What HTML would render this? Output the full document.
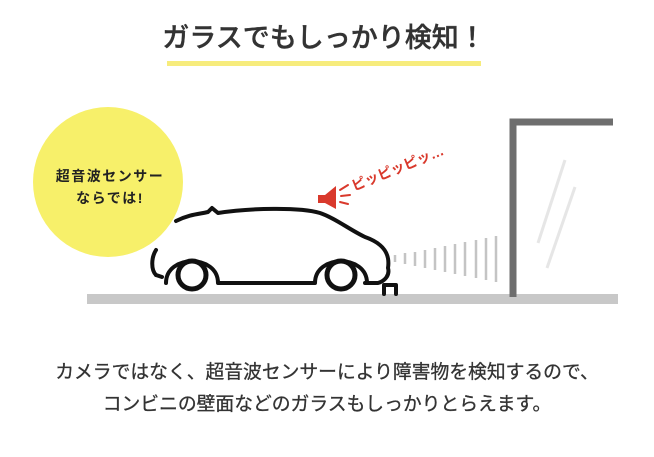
<!DOCTYPE html>
<html><head><meta charset="utf-8"><style>
body{margin:0;width:654px;height:457px;background:#fff;overflow:hidden;position:relative;font-family:"Liberation Sans","Noto Sans CJK JP",sans-serif;}
.t{position:absolute;left:0;width:654px;text-align:center;color:#333;}
</style></head><body>
<svg width="654" height="457" style="position:absolute;left:0;top:0">
<rect x="167" y="61" width="314" height="5" fill="#f7ec7c"/>
<circle cx="108" cy="182" r="75" fill="#f7f06a"/>
<rect x="87" y="294" width="531" height="10" fill="#c8c8c8"/>
<path d="M513 297 V122 H613" fill="none" stroke="#6e6e6e" stroke-width="7"/>
<line x1="565" y1="160" x2="538" y2="243" stroke="#e6e6e6" stroke-width="3"/>
<line x1="575" y1="187" x2="547" y2="268" stroke="#e6e6e6" stroke-width="3"/>
<g stroke="#c4c4c4" stroke-width="2.5">
<line x1="395" y1="255" x2="395" y2="262"/><line x1="405" y1="253" x2="405" y2="264"/>
<line x1="415" y1="252" x2="415" y2="266"/><line x1="425" y1="250" x2="425" y2="268"/>
<line x1="435" y1="248" x2="435" y2="270"/><line x1="445" y1="246" x2="445" y2="272"/>
<line x1="455" y1="244" x2="455" y2="274"/><line x1="465" y1="242" x2="465" y2="276"/>
<line x1="476" y1="240" x2="476" y2="278"/><line x1="486" y1="238" x2="486" y2="280"/>
<line x1="496" y1="236" x2="496" y2="282"/>
</g>
<g fill="none" stroke="#111" stroke-width="4" stroke-linejoin="round" stroke-linecap="round">
<path d="M176 221 C190 214 200 214 208 212 L212 208 L218 213 C250 208 300 207 320 213 C335 218 350 230 365 237 C385 244 390 255 388 268 C390 275 385 281 378 283 L365 283"/>
<path d="M156 250 C151 258 151 270 156 275"/>
<path d="M156 275 L162 277"/>
<path d="M166 283 C166 254 218 254 218 283 L315 283 C315 254 367 254 367 283"/>
<circle cx="192" cy="275" r="14" stroke-width="5"/>
<circle cx="341" cy="275" r="14" stroke-width="5"/>
<path d="M384 294 V285 H396 V294"/>
</g>
<polygon points="318,195 325,195 336,186 336,209 325,203 318,203" fill="#d9392c"/>
<g stroke="#d9392c" stroke-width="2" stroke-linecap="round"><line x1="340" y1="190" x2="348" y2="185"/><line x1="341" y1="196" x2="350" y2="195"/><line x1="340" y1="202" x2="348" y2="204"/></g>
<text x="354" y="191" transform="rotate(-22 354 191)" fill="#d9392c" font-size="14" font-weight="bold" font-family="Liberation Sans,Noto Sans CJK JP,sans-serif">ピッピッピッ…</text>
</svg>
<div class="t" style="top:16px;font-size:27px;left:-3px;font-weight:500;-webkit-text-stroke:0.4px #333">ガラスでもしっかり検知！</div>
<div style="position:absolute;left:30px;width:160px;top:165px;text-align:center;font-size:14px;letter-spacing:1.5px;font-weight:bold;line-height:22px;color:#222;font-family:'Liberation Sans','Noto Sans CJK JP',sans-serif">超音波センサー<br>ならでは!</div>
<div class="t" style="top:356px;font-size:18.8px;line-height:32px;-webkit-text-stroke:0.3px #333">カメラではなく、超音波センサーにより障害物を検知するので、<br>コンビニの壁面などのガラスもしっかりとらえます。</div>
</body></html>
